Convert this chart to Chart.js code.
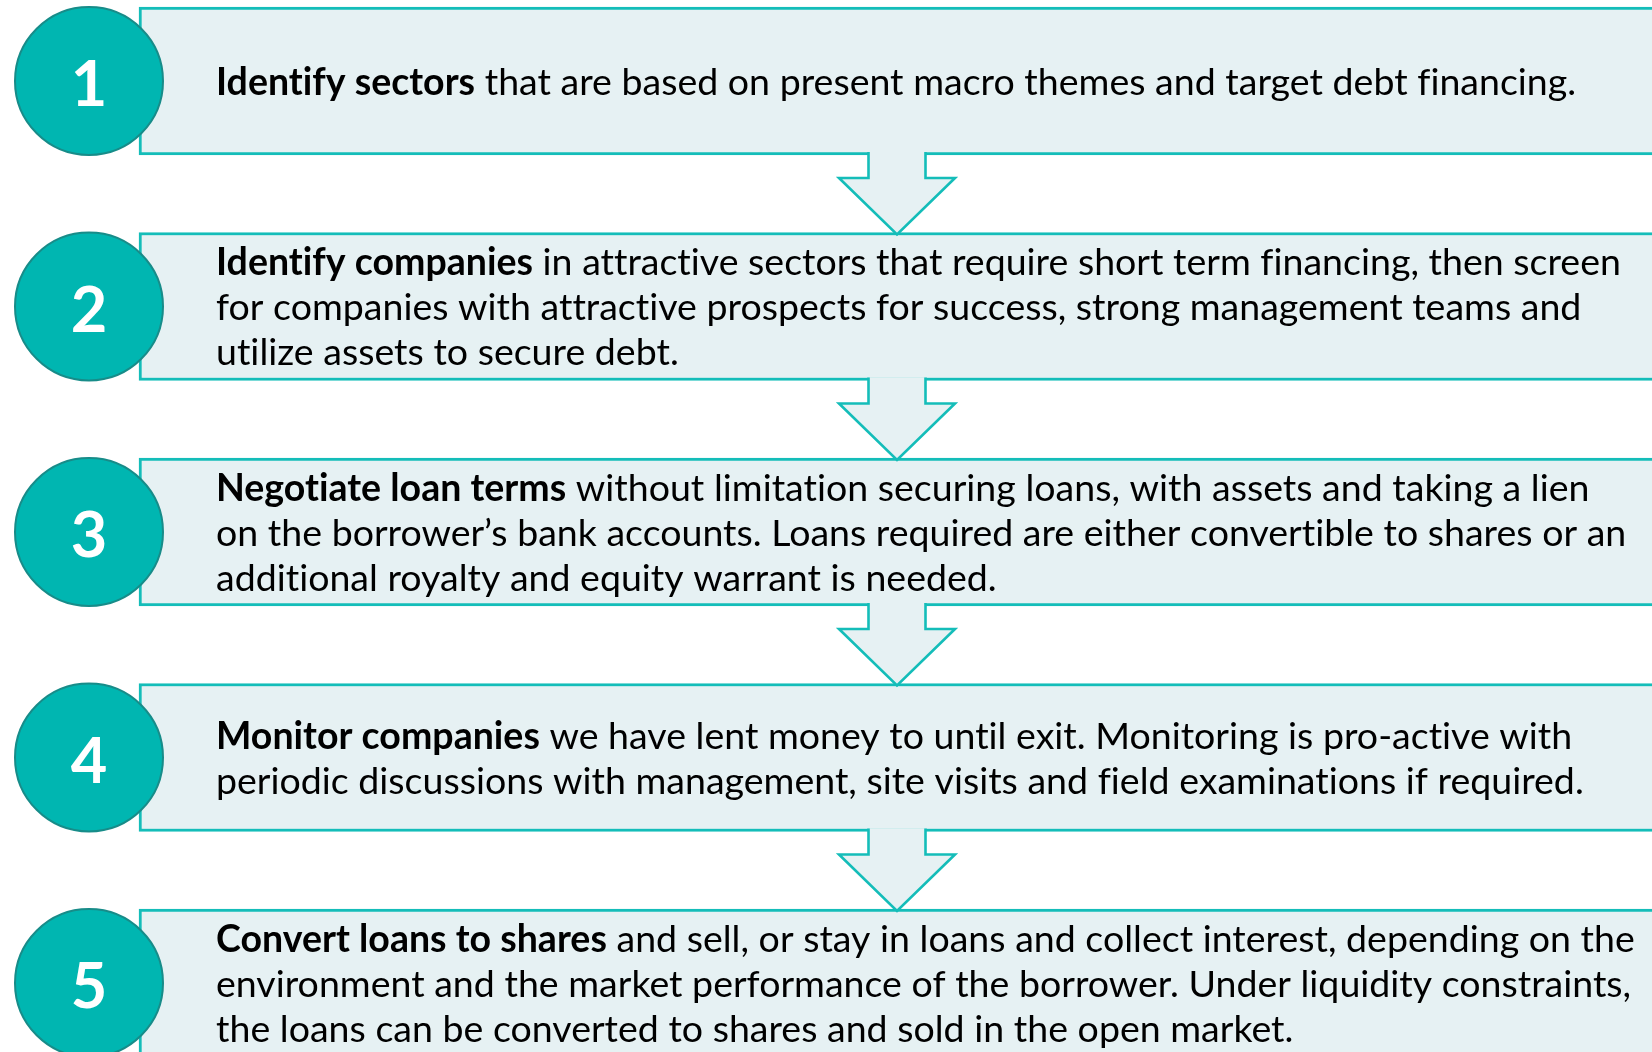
<!DOCTYPE html>
<html>
<head>
<meta charset="utf-8">
<script src="https://cdn.jsdelivr.net/npm/chart.js@4/dist/chart.umd.min.js"></script>
<style>
  html, body { margin: 0; padding: 0; background: #ffffff; }
  canvas { display: block; }
</style>
</head>
<body>
<canvas id="c" width="1652" height="1052"></canvas>
<script>
// ---- data ----
const stepIndex = [1, 2, 3, 4, 5];
const stepNumbers = ['1', '2', '3', '4', '5'];
const stepTitles = [
  'Identify sectors',
  'Identify companies',
  'Negotiate loan terms',
  'Monitor companies',
  'Convert loans to shares'
];
const stepLines = [
  [' that are based on present macro themes and target debt financing.'],
  [' in attractive sectors that require short term financing, then screen',
   'for companies with attractive prospects for success, strong management teams and',
   'utilize assets to secure debt.'],
  [' without limitation securing loans, with assets and taking a lien',
   'on the borrower\u2019s bank accounts. Loans required are either convertible to shares or an',
   'additional royalty and equity warrant is needed.'],
  [' we have lent money to until exit. Monitoring is pro-active with',
   'periodic discussions with management, site visits and field examinations if required.'],
  [' and sell, or stay in loans and collect interest, depending on the',
   'environment and the market performance of the borrower. Under liquidity constraints,',
   'the loans can be converted to shares and sold in the open market.']
];

// ---- layout / style ----
const BOX_LEFT = 139, BOX_RIGHT = 1760, BOX_H = 148;
const CIRCLE_X = 89, CIRCLE_R = 74;
const TEXT_LEFT = 216, LINE_H = 45, FONT_PX = 37.5;
const ARROW_X = 897;
const boxFill = '#E6F1F3', teal = '#14BDB9';
const circleFill = '#00B6B1', circleStroke = '#178C89';

const boxData = stepIndex.map(i => ({ y: i, x: [BOX_LEFT, BOX_RIGHT] }));
const circleData = stepIndex.map(i => ({ x: CIRCLE_X, y: i, r: CIRCLE_R }));

const flowPlugin = {
  id: 'flow',
  afterDatasetsDraw(chart) {
    const ctx = chart.ctx;
    const xs = chart.scales.x, ys = chart.scales.y;
    ctx.save();
    // arrows
    for (let k = 0; k < stepIndex.length - 1; k++) {
      const bottom = ys.getPixelForValue(stepIndex[k]) + BOX_H / 2;
      const nextTop = ys.getPixelForValue(stepIndex[k + 1]) - BOX_H / 2;
      const cx = xs.getPixelForValue(ARROW_X);
      const sw = 28.5, hw = 58;
      const top = bottom - 3;
      const step = bottom + 23;
      const tip = nextTop + 2;
      const path = () => {
        ctx.beginPath();
        ctx.moveTo(cx - sw, top);
        ctx.lineTo(cx - sw, step);
        ctx.lineTo(cx - hw, step);
        ctx.lineTo(cx, tip);
        ctx.lineTo(cx + hw, step);
        ctx.lineTo(cx + sw, step);
        ctx.lineTo(cx + sw, top);
      };
      path();
      ctx.closePath();
      ctx.fillStyle = boxFill;
      ctx.fill();
      path();
      ctx.strokeStyle = teal;
      ctx.lineWidth = 2.6;
      ctx.lineJoin = 'miter';
      ctx.stroke();
    }
    // texts (no ligatures, as in the reference)
    if ('letterSpacing' in ctx) ctx.letterSpacing = '0.01px';
    ctx.textBaseline = 'alphabetic';
    ctx.textAlign = 'left';
    ctx.fillStyle = '#000000';
    stepIndex.forEach((v, k) => {
      const cy = ys.getPixelForValue(v);
      const lines = stepLines[k];
      const n = lines.length;
      const x0 = xs.getPixelForValue(TEXT_LEFT);
      lines.forEach((ln, j) => {
        const base = cy + 13.5 + (j - (n - 1) / 2) * LINE_H;
        let x = x0;
        if (j === 0) {
          ctx.font = 'bold ' + FONT_PX + 'px Lato';
          ctx.fillText(stepTitles[k], x, base);
          x += ctx.measureText(stepTitles[k]).width;
        }
        ctx.font = FONT_PX + 'px Lato';
        ctx.fillText(ln, x, base);
      });
    });
    // numbers
    ctx.textAlign = 'center';
    ctx.fillStyle = '#ffffff';
    ctx.font = 'bold 63px Lato';
    stepIndex.forEach((v, k) => {
      const cy = ys.getPixelForValue(v);
      const cx = xs.getPixelForValue(CIRCLE_X);
      ctx.fillText(stepNumbers[k], cx, cy + 25);
    });
    ctx.restore();
  }
};

new Chart(document.getElementById('c'), {
  type: 'bar',
  data: {
    datasets: [
      {
        type: 'bubble',
        data: circleData,
        backgroundColor: circleFill,
        borderColor: circleStroke,
        borderWidth: 2,
        order: 0,
        clip: false
      },
      {
        type: 'bar',
        indexAxis: 'y',
        data: boxData,
        backgroundColor: boxFill,
        borderColor: teal,
        borderWidth: 3,
        borderSkipped: false,
        barThickness: BOX_H,
        order: 1,
        clip: false
      }
    ]
  },
  options: {
    responsive: false,
    animation: false,
    devicePixelRatio: 1,
    events: [],
    layout: { padding: 0, autoPadding: false },
    plugins: { legend: { display: false }, tooltip: { enabled: false } },
    scales: {
      x: { type: 'linear', display: false, offset: false, grace: 0, min: 0, max: 1652 },
      y: { type: 'linear', display: false, offset: false, grace: 0, reverse: true, min: 1 - 81 / 225.5, max: 1 + 971 / 225.5 }
    }
  },
  plugins: [flowPlugin]
});
</script>
</body>
</html>
